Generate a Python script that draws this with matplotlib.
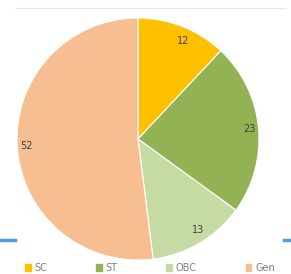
import matplotlib
matplotlib.use("Agg")
import matplotlib.pyplot as plt
from matplotlib.lines import Line2D

# data
categories = ["SC", "ST", "OBC", "Gen"]
values = [12, 23, 13, 52]
colors = ["#FFC000", "#92B254", "#C5DBA3", "#F7BE91"]

fig = plt.figure(figsize=(2.91, 2.74), dpi=100)
ax = fig.add_axes([17 / 291, 1 - 260 / 274, 242 / 291, 242 / 274])

wedges, texts = ax.pie(values, colors=colors, startangle=90, counterclock=False,
                       labels=[str(v) for v in values], labeldistance=0.87,
                       wedgeprops=dict(edgecolor="white", linewidth=0.8),
                       textprops=dict(fontsize=7, color="#404040"))
ax.set_xlim(-1, 1)
ax.set_ylim(-1, 1)
ax.set_aspect("equal")

# slide decorations
fig.add_artist(Line2D([15 / 291, 285 / 291], [1 - 8 / 274] * 2, color="#E4EAF2", lw=0.8))
fig.add_artist(Line2D([0, 15 / 291], [1 - 240 / 274] * 2, color="#5B9BD5", lw=2.5))
fig.add_artist(Line2D([284 / 291, 1], [1 - 240 / 274] * 2, color="#5B9BD5", lw=2.5))

handles = [plt.Rectangle((0, 0), 1, 1, color=c) for c in colors]
fig.legend(handles, categories, loc="center", bbox_to_anchor=(0.515, 1 - 268 / 274),
           ncol=4, frameon=False, fontsize=7, labelcolor="#7F7F7F",
           handlelength=0.6, handleheight=0.6, handletextpad=0.4, columnspacing=5.0)

fig.savefig("out.png", dpi=100)
